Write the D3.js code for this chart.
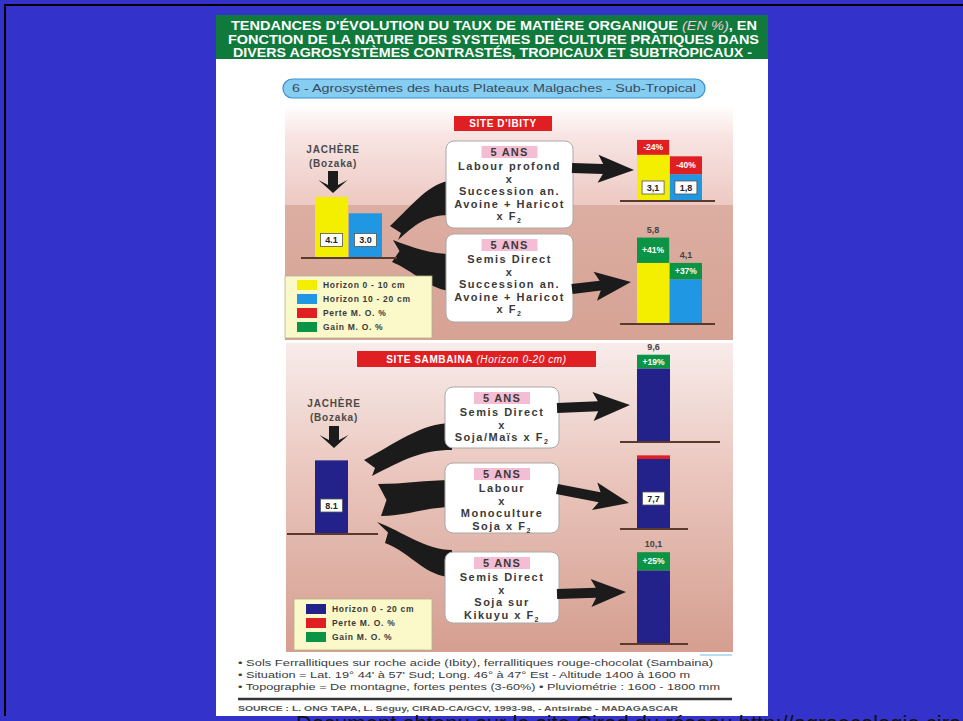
<!DOCTYPE html>
<html><head><meta charset="utf-8">
<script src="https://cdn.jsdelivr.net/npm/d3@7"></script>
<style>body{margin:0;background:#3333cc;overflow:hidden}svg{display:block}</style>
</head><body>
<svg id="c" width="963" height="721"></svg>
<script>
// ---------------- DATA ----------------
const titleLines = [
  "TENDANCES D'ÉVOLUTION DU TAUX DE MATIÈRE ORGANIQUE (EN %), EN",
  "FONCTION DE LA NATURE DES SYSTEMES DE CULTURE PRATIQUES DANS",
  "DIVERS AGROSYSTÈMES CONTRASTÉS, TROPICAUX ET SUBTROPICAUX -"
];
const subtitle = "6 - Agrosystèmes des hauts Plateaux Malgaches - Sub-Tropical";
const ibitySite = "SITE D'IBITY";
const sambainaSite = "SITE SAMBAINA";
const sambainaSiteNote = "(Horizon 0-20 cm)";
const fallowLabel = ["JACHÈRE", "(Bozaka)"];
const durationLabel = "5 ANS";
const ibityHorizons = ["Horizon 0 - 10 cm", "Horizon 10 - 20 cm"];
const ibityFallow = [4.1, 3.0];
const ibityLabour = [3.1, 1.8];
const ibitySemis = [5.8, 4.1];
const ibityLabourPct = ["-24%", "-40%"];
const ibitySemisPct = ["+41%", "+37%"];
const ibityTreatments = [
  ["Labour profond", "x", "Succession an.", "Avoine + Haricot", "x F2"],
  ["Semis Direct", "x", "Succession an.", "Avoine + Haricot", "x F2"]
];
const sambainaFallow = 8.1;
const sambainaValues = [9.6, 7.7, 10.1];
const sambainaPct = ["+19%", "", "+25%"];
const sambainaTreatments = [
  ["Semis Direct", "x", "Soja/Maïs x F2"],
  ["Labour", "x", "Monoculture", "Soja x F2"],
  ["Semis Direct", "x", "Soja sur", "Kikuyu x F2"]
];
const legendIbity = ["Horizon 0 - 10 cm", "Horizon 10 - 20 cm", "Perte M. O. %", "Gain M. O. %"];
const legendSambaina = ["Horizon 0 - 20 cm", "Perte M. O. %", "Gain M. O. %"];
const footnotes = [
  "• Sols Ferrallitiques sur roche acide (Ibity), ferrallitiques rouge-chocolat (Sambaina)",
  "• Situation = Lat. 19° 44' à 57' Sud; Long. 46° à 47° Est -  Altitude 1400 à 1600 m",
  "• Topographie = De montagne, fortes pentes (3-60%)   • Pluviométrie : 1600 - 1800 mm"
];
const sourceLine = "SOURCE : L. ONG TAPA, L. Séguy, CIRAD-CA/GCV, 1993-98, - Antsirabé - MADAGASCAR";
const captionLine = "Document obtenu sur le site Cirad du réseau http://agroecologie.cirad.fr";

// ---------------- STYLE ----------------
const FONT = "'Liberation Sans', Arial, sans-serif";
const C = {
  yellow: "#f4ee00", blue: "#1f97e2", red: "#e01f22", green: "#0c9446", navy: "#23218a",
  text: "#3a3a3a", bgBlue: "#3333cc", banner: "#0f7a3b"
};
const horizonColors = [C.yellow, C.blue];

const svg = d3.select("#c");
const defs = svg.append("defs");
function vGrad(id, y0, y1, stops) {
  const g = defs.append("linearGradient").attr("id", id).attr("gradientUnits", "userSpaceOnUse")
    .attr("x1", 0).attr("x2", 0).attr("y1", y0).attr("y2", y1);
  stops.forEach(s => g.append("stop").attr("offset", s[0]).attr("stop-color", s[1]));
}
vGrad("gTop", 105, 205, [[0, "#ffffff"], [0.3, "#f8e5e3"], [1, "#edc9c3"]]);
vGrad("gBot", 205, 340, [[0, "#dcaea2"], [1, "#d6a294"]]);
vGrad("gSam", 343, 652, [[0, "#f8ecea"], [0.45, "#e9c4bb"], [1, "#d59e90"]]);

// background + frame
svg.append("rect").attr("width", 963).attr("height", 721).attr("fill", C.bgBlue);
svg.append("line").attr("x1", 4).attr("x2", 963).attr("y1", 5).attr("y2", 5).attr("stroke", "#000").attr("stroke-width", 2);
svg.append("line").attr("x1", 5).attr("x2", 5).attr("y1", 4).attr("y2", 721).attr("stroke", "#000").attr("stroke-width", 2);

// poster
svg.append("rect").attr("x", 216).attr("y", 15).attr("width", 552).attr("height", 701).attr("fill", "#fff");
svg.append("rect").attr("x", 216).attr("y", 15).attr("width", 552).attr("height", 44).attr("fill", C.banner);

// title
const titleY = [25.5, 39, 52.5];
const titleX = [[231, 757], [228, 759], [233, 752]];
titleLines.forEach((line, i) => {
  const t = svg.append("text").attr("x", titleX[i][0]).attr("y", titleY[i]).attr("dy", "0.36em")
    .attr("font-family", FONT).attr("font-weight", "bold").attr("font-size", 13.5).attr("fill", "#fff")
    .attr("textLength", titleX[i][1] - titleX[i][0]).attr("lengthAdjust", "spacingAndGlyphs");
  const parts = line.split(/(\(EN %\))/);
  parts.forEach(p => {
    if (!p) return;
    const ts = t.append("tspan").text(p);
    if (p === "(EN %)") ts.attr("font-style", "italic").attr("fill", "#f2c9d8").attr("font-weight", "normal");
  });
});

// subtitle pill
svg.append("rect").attr("x", 283).attr("y", 79).attr("width", 422).attr("height", 19).attr("rx", 9.5)
  .attr("fill", "#86cdf2").attr("stroke", "#3d8fd0").attr("stroke-width", 1.2);
svg.append("text").attr("x", 494).attr("y", 88.5).attr("dy", "0.35em").attr("text-anchor", "middle")
  .attr("font-family", FONT).attr("font-size", 10).attr("fill", "#3a4a5a")
  .attr("textLength", 404).attr("lengthAdjust", "spacingAndGlyphs").text(subtitle);

// panels
svg.append("rect").attr("x", 285).attr("y", 105).attr("width", 448).attr("height", 100).attr("fill", "url(#gTop)");
svg.append("rect").attr("x", 285).attr("y", 205).attr("width", 448).attr("height", 135).attr("fill", "url(#gBot)");
svg.append("rect").attr("x", 286).attr("y", 343).attr("width", 447).attr("height", 309).attr("fill", "url(#gSam)");
svg.append("line").attr("x1", 700).attr("x2", 732).attr("y1", 655).attr("y2", 655).attr("stroke", "#8fc4e8").attr("stroke-width", 1.2);

// ---------------- helpers ----------------
function redLabel(x, y, w, h, main, note) {
  svg.append("rect").attr("x", x).attr("y", y).attr("width", w).attr("height", h).attr("fill", C.red);
  const t = svg.append("text").attr("x", x + w / 2).attr("y", y + h / 2).attr("dy", "0.36em").attr("text-anchor", "middle")
    .attr("font-family", FONT).attr("font-size", 10).attr("font-weight", "bold").attr("fill", "#fff").attr("letter-spacing", 0.6);
  t.append("tspan").text(main);
  if (note) t.append("tspan").attr("font-style", "italic").attr("font-weight", "normal").text(" " + note);
}
function fallowText(cx, y) {
  fallowLabel.forEach((s, i) => svg.append("text").attr("x", cx).attr("y", y + i * 14).attr("dy", "0.35em")
    .attr("text-anchor", "middle").attr("font-family", FONT).attr("font-size", 10).attr("font-weight", "bold")
    .attr("fill", "#4a4a4a").attr("letter-spacing", 0.8).text(s));
}
function arrowPoly(x0, y0, x1, y1, shaftW, headL, headW) {
  const ang = Math.atan2(y1 - y0, x1 - x0) * 180 / Math.PI, len = Math.hypot(x1 - x0, y1 - y0);
  const b = len - headL;
  const pts = [[0, -shaftW / 2], [b + 3, -shaftW / 2], [b - 2, -headW / 2], [len, 0], [b - 2, headW / 2], [b + 3, shaftW / 2], [0, shaftW / 2]];
  svg.append("polygon").attr("points", pts.map(p => p.join(",")).join(" "))
    .attr("transform", `translate(${x0},${y0}) rotate(${ang})`).attr("fill", "#1b1b1b");
}
function swoosh(tT, tB, eT, eB, bulge) {
  const notch = [(tT[0] + tB[0]) / 2 + 7, (tT[1] + tB[1]) / 2];
  const dx = eT[0] - tT[0];
  const p = d3.path();
  p.moveTo(tT[0], tT[1]);
  p.bezierCurveTo(tT[0] + dx * 0.35, tT[1] + bulge, eT[0] - dx * 0.35, eT[1], eT[0], eT[1]);
  p.lineTo(eB[0], eB[1]);
  p.bezierCurveTo(eB[0] - dx * 0.35, eB[1], tB[0] + dx * 0.35, tB[1] + bulge, tB[0], tB[1]);
  p.lineTo(notch[0], notch[1]);
  p.closePath();
  svg.append("path").attr("d", p.toString()).attr("fill", "#1b1b1b");
}
function treatmentBox(x, y, w, h, lines) {
  svg.append("rect").attr("x", x).attr("y", y).attr("width", w).attr("height", h).attr("rx", 8)
    .attr("fill", "#fff").attr("stroke", "#a9a9a9").attr("stroke-width", 1);
  const cx = x + w / 2;
  svg.append("rect").attr("x", cx - 28).attr("y", y + 5).attr("width", 56).attr("height", 12).attr("fill", "#f5bdd3");
  svg.append("text").attr("x", cx).attr("y", y + 11).attr("dy", "0.36em").attr("text-anchor", "middle")
    .attr("font-family", FONT).attr("font-size", 11).attr("font-weight", "bold").attr("fill", C.text)
    .attr("letter-spacing", 1.2).text(durationLabel);
  lines.forEach((s, i) => {
    const t = svg.append("text").attr("x", cx).attr("y", y + 25.5 + i * 12.4).attr("dy", "0.36em").attr("text-anchor", "middle")
      .attr("font-family", FONT).attr("font-size", 11).attr("font-weight", "bold").attr("fill", C.text).attr("letter-spacing", 1.5);
    const m = s.match(/^(.*F)2$/);
    if (m) { t.append("tspan").text(m[1]); t.append("tspan").attr("font-size", 7).attr("dy", 3).text("2"); }
    else t.text(s);
  });
}
function valueBox(cx, cy, txt) {
  svg.append("rect").attr("x", cx - 11).attr("y", cy - 6.5).attr("width", 22).attr("height", 13)
    .attr("fill", "#fff").attr("stroke", "#555").attr("stroke-width", 0.8);
  svg.append("text").attr("x", cx).attr("y", cy).attr("dy", "0.36em").attr("text-anchor", "middle")
    .attr("font-family", FONT).attr("font-size", 9).attr("font-weight", "bold").attr("fill", "#222").text(txt);
}
function topLabel(cx, y, txt) {
  svg.append("text").attr("x", cx).attr("y", y).attr("dy", "0.36em").attr("text-anchor", "middle")
    .attr("font-family", FONT).attr("font-size", 9).attr("font-weight", "bold").attr("fill", "#444").text(txt);
}
function capLabel(cx, cy, txt) {
  svg.append("text").attr("x", cx).attr("y", cy).attr("dy", "0.36em").attr("text-anchor", "middle")
    .attr("font-family", FONT).attr("font-size", 8.5).attr("font-weight", "bold").attr("fill", "#fff").text(txt);
}
function baseLine(x1, x2, y) {
  svg.append("line").attr("x1", x1).attr("x2", x2).attr("y1", y).attr("y2", y).attr("stroke", "#5a3a2c").attr("stroke-width", 2);
}
function legend(x, y, w, h, items, colors, rowY) {
  svg.append("rect").attr("x", x).attr("y", y).attr("width", w).attr("height", h).attr("fill", "#fbf8c9").attr("stroke", "#b5b08a").attr("stroke-width", 0.8);
  items.forEach((s, i) => {
    svg.append("rect").attr("x", x + 12).attr("y", rowY[i] - 5).attr("width", 20).attr("height", 10).attr("fill", colors[i]);
    svg.append("text").attr("x", x + 38).attr("y", rowY[i]).attr("dy", "0.36em").attr("font-family", FONT)
      .attr("font-size", 8.5).attr("font-weight", "bold").attr("fill", "#3a3a3a").attr("letter-spacing", 0.7).text(s);
  });
}
const fmtPt = d3.format(".1f");
const fmtCm = v => d3.format(".1f")(v).replace(".", ",");

function evoBar(x, w, base, yScale, ref, val, color) {
  const low = Math.min(ref, val), hi = Math.max(ref, val);
  svg.append("rect").attr("x", x).attr("width", w).attr("y", base - yScale(low)).attr("height", yScale(low)).attr("fill", color);
  if (hi > low) svg.append("rect").attr("x", x).attr("width", w).attr("y", base - yScale(hi)).attr("height", yScale(hi) - yScale(low))
    .attr("fill", val > ref ? C.green : C.red);
}

// ---------------- SITE D'IBITY ----------------
const yI = d3.scaleLinear().domain([0, 6]).range([0, 89.4]);
const xIL = d3.scaleBand().domain(ibityHorizons).range([315, 382]).paddingInner(0.02);
const xIR = d3.scaleBand().domain(ibityHorizons).range([637, 702]).paddingInner(0.02);
const ibityLeftBase = 258, ibityRightBase = [201, 324];
const ibityBoxes = [[446, 141, 127, 87], [446, 234, 127, 88]];

redLabel(454, 116, 98, 15, ibitySite);
fallowText(333, 149);
arrowPoly(333, 171, 333, 193, 10, 11, 29);

swoosh([390, 226], [398, 240], [452, 181], [452, 215], -20);
swoosh([393, 240], [392, 262], [452, 254], [452, 291], 8);
ibityBoxes.forEach((b, i) => treatmentBox(b[0], b[1], b[2], b[3], ibityTreatments[i]));
arrowPoly(572, 168, 634, 170, 10, 34, 28);
arrowPoly(572, 289, 631, 282, 10, 34, 29);

ibityHorizons.forEach((h, j) => {
  svg.append("rect").attr("x", xIL(h)).attr("width", xIL.bandwidth()).attr("y", ibityLeftBase - yI(ibityFallow[j]))
    .attr("height", yI(ibityFallow[j])).attr("fill", horizonColors[j]);
});
baseLine(301, 397, ibityLeftBase);
ibityHorizons.forEach((h, j) => valueBox(xIL(h) + xIL.bandwidth() / 2, ibityLeftBase - 18, fmtPt(ibityFallow[j])));

[ibityLabour, ibitySemis].forEach((vals, g) => {
  const base = ibityRightBase[g];
  const pcts = g === 0 ? ibityLabourPct : ibitySemisPct;
  ibityHorizons.forEach((h, j) => {
    const x = xIR(h), w = xIR.bandwidth(), cx = x + w / 2;
    evoBar(x, w, base, yI, ibityFallow[j], vals[j], horizonColors[j]);
    const capMid = base - (yI(ibityFallow[j]) + yI(vals[j])) / 2;
    capLabel(cx, capMid, pcts[j]);
    if (vals[j] < ibityFallow[j]) valueBox(cx, base - 13.5, fmtCm(vals[j]));
    else topLabel(cx, base - yI(vals[j]) - 8, fmtCm(vals[j]));
  });
  baseLine(620, 715, base);
});
legend(285, 276, 147, 62, legendIbity, [C.yellow, C.blue, C.red, C.green], [285, 299, 313, 327]);

// ---------------- SITE SAMBAINA ----------------
const yS = d3.scaleLinear().domain([0, 11]).range([0, 100]);
const sambLeftBase = 534, sambRightBase = [442, 529, 644];
const xSL = 315, xSR = 637, barW = 33;
const sambBoxes = [[445, 387, 114, 61], [445, 463, 114, 70], [445, 552, 114, 71]];

redLabel(357, 351, 239, 16, sambainaSite, sambainaSiteNote);
fallowText(334, 403);
arrowPoly(334, 426, 334, 448, 10, 11, 29);

swoosh([364, 460], [372, 476], [452, 423], [452, 450], -16);
swoosh([378, 484], [381, 516], [452, 480], [452, 507], 0);
swoosh([377, 522], [385, 543], [452, 550], [452, 577], 10);
sambBoxes.forEach((b, i) => treatmentBox(b[0], b[1], b[2], b[3], sambainaTreatments[i]));
arrowPoly(557, 408, 630, 405, 10, 35, 29);
arrowPoly(557, 489, 629, 503, 10, 33, 28);
arrowPoly(557, 594, 626, 592, 10, 33, 28);

svg.append("rect").attr("x", xSL).attr("width", barW).attr("y", sambLeftBase - yS(sambainaFallow))
  .attr("height", yS(sambainaFallow)).attr("fill", C.navy);
baseLine(287, 378, sambLeftBase);
valueBox(xSL + barW / 2, sambLeftBase - 28.5, fmtPt(sambainaFallow));

sambainaValues.forEach((v, i) => {
  const base = sambRightBase[i], cx = xSR + barW / 2;
  evoBar(xSR, barW, base, yS, sambainaFallow, v, C.navy);
  if (v > sambainaFallow) {
    capLabel(cx, base - (yS(sambainaFallow) + yS(v)) / 2, sambainaPct[i]);
    topLabel(cx, base - yS(v) - 8, fmtCm(v));
  } else {
    valueBox(cx, base - 30.5, fmtCm(v));
  }
});
baseLine(620, 720, sambRightBase[0]);
baseLine(620, 688, sambRightBase[1]);
baseLine(620, 688, sambRightBase[2]);
legend(294, 599, 138, 51, legendSambaina, [C.navy, C.red, C.green], [609, 623, 637]);

// ---------------- footer ----------------
const footX = [[238, 713], [238, 690], [238, 720]];
const footY = [663, 675, 687];
footnotes.forEach((s, i) => svg.append("text").attr("x", footX[i][0]).attr("y", footY[i]).attr("dy", "0.36em")
  .attr("font-family", FONT).attr("font-size", 9).attr("fill", "#3a3a3a")
  .attr("textLength", footX[i][1] - footX[i][0]).attr("lengthAdjust", "spacingAndGlyphs").text(s));
svg.append("line").attr("x1", 238).attr("x2", 732).attr("y1", 699).attr("y2", 699).attr("stroke", "#333").attr("stroke-width", 2.5);
svg.append("text").attr("x", 238).attr("y", 708).attr("dy", "0.36em").attr("font-family", FONT).attr("font-size", 7.5)
  .attr("font-weight", "bold").attr("fill", "#555").attr("textLength", 440).attr("lengthAdjust", "spacingAndGlyphs").text(sourceLine);

// bottom band + caption
svg.append("rect").attr("x", 0).attr("y", 716).attr("width", 963).attr("height", 5).attr("fill", C.bgBlue);
svg.append("text").attr("x", 296).attr("y", 731).attr("font-family", FONT).attr("font-size", 22).attr("fill", "#111").text(captionLine);
</script>
</body></html>
